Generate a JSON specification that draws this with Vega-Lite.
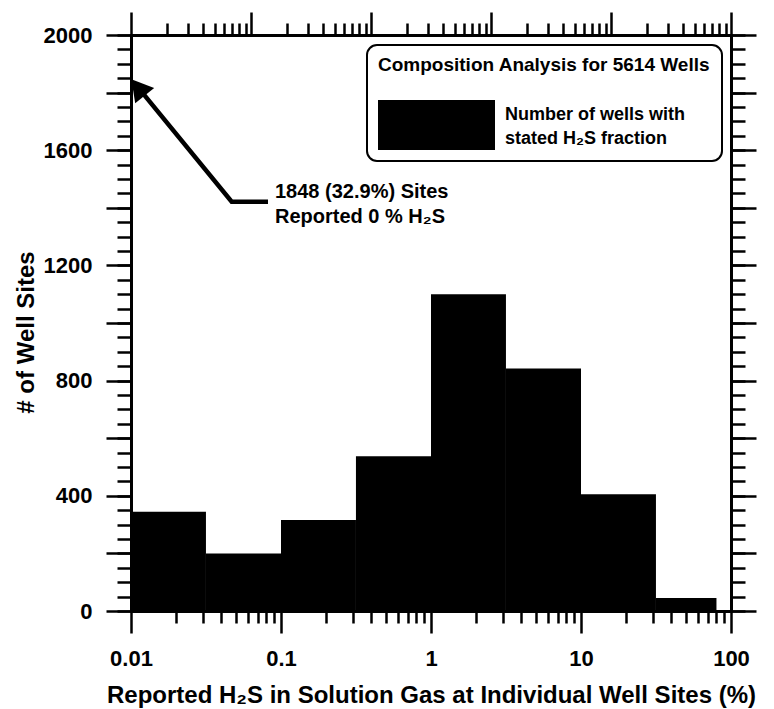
{
  "$schema": "https://vega.github.io/schema/vega-lite/v6.json",
  "width": 600,
  "height": 576,
  "autosize": {"type": "none"},
  "padding": {"left": 131, "top": 35, "right": 43, "bottom": 98},
  "background": "white",
  "datasets": {
    "bins": [
      {"lo": 0.01, "hi": 0.0316, "wells": 345, "series": "Number of wells with stated H₂S fraction"},
      {"lo": 0.0316, "hi": 0.1, "wells": 200, "series": "Number of wells with stated H₂S fraction"},
      {"lo": 0.1, "hi": 0.316, "wells": 316, "series": "Number of wells with stated H₂S fraction"},
      {"lo": 0.316, "hi": 1, "wells": 537, "series": "Number of wells with stated H₂S fraction"},
      {"lo": 1, "hi": 3.16, "wells": 1100, "series": "Number of wells with stated H₂S fraction"},
      {"lo": 3.16, "hi": 10, "wells": 842, "series": "Number of wells with stated H₂S fraction"},
      {"lo": 10, "hi": 31.6, "wells": 405, "series": "Number of wells with stated H₂S fraction"},
      {"lo": 31.6, "hi": 80, "wells": 45, "series": "Number of wells with stated H₂S fraction"}
    ],
    "callout": [
      {"part": "head", "x": 0.01114, "y": 1818},
      {"part": "bend", "x": 0.0469, "y": 1421},
      {"part": "end", "x": 0.0819, "y": 1421}
    ],
    "note": [
      {"x": 0.0912, "y": 1434, "text": "1848 (32.9%) Sites"},
      {"x": 0.0912, "y": 1346, "text": "Reported 0 % H₂S"}
    ]
  },
  "data": {"name": "bins"},
  "layer": [
    {
      "mark": {"type": "rect", "opacity": 1},
      "encoding": {
        "x": {
          "field": "lo", "type": "quantitative",
          "scale": {"type": "log", "domain": [0.01, 100], "nice": false},
          "axis": {
            "orient": "bottom", "values": [0.01, 0.1, 1, 10, 100], "format": "~g",
            "tickSize": 22, "labelPadding": 15,
            "title": "Reported H₂S in Solution Gas at Individual Well Sites (%)",
            "titleFontSize": 24, "titlePadding": 14
          }
        },
        "x2": {"field": "hi"},
        "y": {
          "field": "wells", "type": "quantitative",
          "scale": {"domain": [0, 2000], "nice": false},
          "axis": {
            "orient": "left",
            "values": [0, 200, 400, 600, 800, 1000, 1200, 1400, 1600, 1800, 2000],
            "format": "d",
            "labelExpr": "datum.value % 400 === 0 ? datum.label : ''",
            "tickSize": 25, "labelPadding": 14,
            "title": "# of Well Sites", "titleFontSize": 24, "titlePadding": 5,
            "titleY": 297
          }
        },
        "y2": {"datum": 0},
        "color": {
          "field": "series", "type": "nominal",
          "scale": {"range": ["black"]},
          "legend": {
            "orient": "none", "legendX": 236, "legendY": 10,
            "title": "Composition Analysis for 5614 Wells",
            "labelExpr": "['Number of wells with', 'stated H₂S fraction']",
            "symbolType": "M-1,-0.427H1V0.427H-1Z",
            "symbolSize": 13689,
            "symbolStrokeWidth": 0,
            "symbolOpacity": 1,
            "padding": 11,
            "titlePadding": -8.5,
            "labelOffset": 10,
            "strokeColor": "black",
            "cornerRadius": 10,
            "fillColor": "white",
            "encode": {"labels": {"update": {"lineHeight": {"value": 24}, "dy": {"value": -10}}}}
          }
        }
      }
    },
    {
      "mark": {"type": "point", "opacity": 0},
      "encoding": {
        "x": {
          "field": "lo", "type": "quantitative",
          "scale": {"type": "log", "domain": [0.01, 100], "nice": false},
          "axis": {
            "orient": "bottom",
            "values": [0.02, 0.03, 0.04, 0.05, 0.06, 0.07, 0.08, 0.09, 0.2, 0.3, 0.4, 0.5, 0.6, 0.7, 0.8, 0.9, 2, 3, 4, 5, 6, 7, 8, 9, 20, 30, 40, 50, 60, 70, 80, 90],
            "tickSize": 12, "labels": false, "domain": false, "title": null
          }
        },
        "y": {
          "field": "wells", "type": "quantitative",
          "scale": {"domain": [0, 2000], "nice": false},
          "axis": {
            "orient": "left",
            "values": [0, 50, 100, 150, 200, 250, 300, 350, 400, 450, 500, 550, 600, 650, 700, 750, 800, 850, 900, 950, 1000, 1050, 1100, 1150, 1200, 1250, 1300, 1350, 1400, 1450, 1500, 1550, 1600, 1650, 1700, 1750, 1800, 1850, 1900, 1950, 2000],
            "tickSize": 14, "labels": false, "domain": false, "title": null
          }
        }
      }
    },
    {
      "mark": {"type": "point", "opacity": 0},
      "encoding": {
        "x": {
          "field": "lo", "type": "quantitative",
          "scale": {"type": "log", "domain": [1, 100000], "nice": false},
          "axis": {
            "orient": "top", "values": [1, 10, 100, 1000, 10000, 100000],
            "tickSize": 23, "labels": false, "title": null
          }
        },
        "y": {
          "field": "wells", "type": "quantitative",
          "scale": {"domain": [0, 2000], "nice": false},
          "axis": {
            "orient": "right",
            "values": [0, 200, 400, 600, 800, 1000, 1200, 1400, 1600, 1800, 2000],
            "tickSize": 25, "labels": false, "title": null
          }
        }
      }
    },
    {
      "mark": {"type": "point", "opacity": 0},
      "encoding": {
        "x": {
          "field": "lo", "type": "quantitative",
          "scale": {"type": "log", "domain": [1, 100000], "nice": false},
          "axis": {
            "orient": "top",
            "values": [2, 3, 4, 5, 6, 7, 8, 9, 20, 30, 40, 50, 60, 70, 80, 90, 200, 300, 400, 500, 600, 700, 800, 900, 2000, 3000, 4000, 5000, 6000, 7000, 8000, 9000, 20000, 30000, 40000, 50000, 60000, 70000, 80000, 90000],
            "tickSize": 12, "labels": false, "domain": false, "title": null
          }
        },
        "y": {
          "field": "wells", "type": "quantitative",
          "scale": {"domain": [0, 2000], "nice": false},
          "axis": {
            "orient": "right",
            "values": [0, 50, 100, 150, 200, 250, 300, 350, 400, 450, 500, 550, 600, 650, 700, 750, 800, 850, 900, 950, 1000, 1050, 1100, 1150, 1200, 1250, 1300, 1350, 1400, 1450, 1500, 1550, 1600, 1650, 1700, 1750, 1800, 1850, 1900, 1950, 2000],
            "tickSize": 14, "labels": false, "domain": false, "title": null
          }
        }
      }
    },
    {
      "data": {"name": "callout"},
      "mark": {"type": "line", "color": "black", "strokeWidth": 4.5, "strokeJoin": "miter"},
      "encoding": {
        "x": {"field": "x", "type": "quantitative", "scale": {"type": "log", "domain": [0.01, 100], "nice": false}, "axis": null},
        "y": {"field": "y", "type": "quantitative", "scale": {"domain": [0, 2000], "nice": false}, "axis": null}
      }
    },
    {
      "data": {"name": "callout"},
      "transform": [{"filter": "datum.part === 'head'"}],
      "mark": {"type": "point", "shape": "triangle-up", "filled": true, "size": 595, "angle": 321, "color": "black", "opacity": 1},
      "encoding": {
        "x": {"field": "x", "type": "quantitative", "scale": {"type": "log", "domain": [0.01, 100], "nice": false}, "axis": null},
        "y": {"field": "y", "type": "quantitative", "scale": {"domain": [0, 2000], "nice": false}, "axis": null}
      }
    },
    {
      "data": {"name": "note"},
      "mark": {"type": "text", "align": "left", "baseline": "alphabetic", "font": "Liberation Sans", "fontWeight": "bold", "fontSize": 20, "color": "black"},
      "encoding": {
        "x": {"field": "x", "type": "quantitative", "scale": {"type": "log", "domain": [0.01, 100], "nice": false}, "axis": null},
        "y": {"field": "y", "type": "quantitative", "scale": {"domain": [0, 2000], "nice": false}, "axis": null},
        "text": {"field": "text"}
      }
    }
  ],
  "resolve": {
    "scale": {"x": "independent"},
    "axis": {"x": "independent", "y": "independent"}
  },
  "config": {
    "view": {"stroke": null},
    "axis": {
      "grid": false,
      "domainColor": "black",
      "domainWidth": 3,
      "domainCap": "square",
      "tickColor": "black",
      "tickWidth": 2.5,
      "labelFont": "Liberation Sans",
      "labelFontWeight": "bold",
      "labelFontSize": 22,
      "labelColor": "black",
      "labelFlush": false,
      "labelOverlap": false,
      "titleFont": "Liberation Sans",
      "titleFontWeight": "bold",
      "titleColor": "black"
    },
    "legend": {
      "strokeWidth": 2,
      "titleFont": "Liberation Sans",
      "titleFontSize": 19,
      "titleFontWeight": "bold",
      "titleColor": "black",
      "titleLimit": 500,
      "labelFont": "Liberation Sans",
      "labelFontSize": 18,
      "labelFontWeight": "bold",
      "labelColor": "black",
      "labelLimit": 500
    }
  }
}
